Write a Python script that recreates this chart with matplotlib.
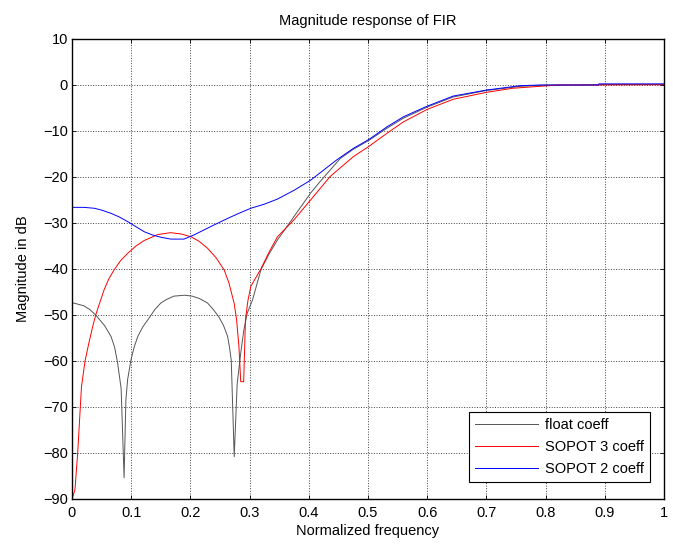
import matplotlib
matplotlib.use("Agg")
import matplotlib.pyplot as plt

plt.rcParams['font.family'] = ['Liberation Sans', 'DejaVu Sans']

# Float coefficients
freq_float = [0, 0.02, 0.03, 0.04, 0.055, 0.066, 0.072, 0.077, 0.083, 0.088, 0.091, 0.094,
              0.0995, 0.105, 0.111, 0.12, 0.13, 0.14, 0.15, 0.16, 0.172, 0.19, 0.203, 0.215,
              0.229, 0.238, 0.248, 0.256, 0.263, 0.266, 0.269, 0.274, 0.279, 0.285, 0.29,
              0.296, 0.305, 0.319, 0.333, 0.347, 0.375, 0.403, 0.419, 0.453, 0.475, 0.502,
              0.532, 0.56, 0.6, 0.644, 0.7, 0.757, 0.8, 0.85, 0.9, 1.0]
mag_float = [-47.3, -48.0, -48.8, -50, -52.3, -54.7, -57, -60.4, -66, -85.4, -68.5, -64,
             -59.8, -57, -54.7, -52.5, -50.7, -48.8, -47.4, -46.6, -45.9, -45.7, -45.9, -46.4,
             -47.4, -48.7, -50.4, -52.3, -54.7, -57, -59.8, -80.8, -65, -58.3, -53.5,
             -49.6, -46.7, -40.2, -36.7, -33.7, -28.6, -23.5, -21, -16, -14, -12,
             -9.4, -7.2, -4.8, -2.6, -1.2, -0.3, 0, 0, 0.1, 0.1]

# SOPOT 3 coefficients
freq_sopot3 = [0, 0.005, 0.0096, 0.016, 0.022, 0.029, 0.035, 0.04, 0.054, 0.062, 0.071, 0.082,
               0.094, 0.108, 0.122, 0.145, 0.167, 0.185, 0.201, 0.215, 0.229, 0.243, 0.257,
               0.265, 0.274, 0.278, 0.282, 0.285, 0.290, 0.293, 0.297, 0.302, 0.31, 0.319,
               0.333, 0.347, 0.375, 0.403, 0.436, 0.475, 0.502, 0.532, 0.56, 0.6, 0.644, 0.7,
               0.745, 0.8, 0.824, 0.889, 0.95, 1.0]
mag_sopot3 = [-90, -88, -80, -65.6, -60, -55.8, -52.5, -50, -44.6, -42.2, -40.2, -38.2,
              -36.6, -35, -33.8, -32.5, -32.1, -32.4, -33.0, -34, -35.5, -37.5, -40.2,
              -43, -47.5, -51, -56.9, -64.5, -64.5, -51, -47, -43.8, -42, -40,
              -36.3, -33, -29.3, -25, -19.9, -15.6, -13.3, -10.5, -8.0, -5.3, -3.1, -1.6,
              -0.7, -0.2, 0, 0, 0.05, 0.05]

# SOPOT 2 coefficients
freq_sopot2 = [0, 0.02, 0.038, 0.05, 0.066, 0.08, 0.094, 0.108, 0.122, 0.136, 0.15, 0.167,
               0.189, 0.206, 0.22, 0.234, 0.25, 0.263, 0.28, 0.302, 0.325, 0.347, 0.375,
               0.403, 0.419, 0.447, 0.475, 0.502, 0.532, 0.56, 0.6, 0.644, 0.7, 0.757,
               0.79, 0.889, 0.89, 1.0]
mag_sopot2 = [-26.6, -26.6, -26.8, -27.2, -27.9, -28.7, -29.7, -30.8, -31.9, -32.6, -33.1, -33.5,
              -33.5, -32.6, -31.7, -30.8, -29.8, -29.0, -28.0, -26.8, -25.9, -24.8, -22.9,
              -20.7, -19.1, -16.3, -13.8, -11.8, -9.1, -6.9, -4.6, -2.4, -1.1, -0.15,
              0, 0, 0.25, 0.25]

x_ticks = [0, 0.1, 0.2, 0.3, 0.4, 0.5, 0.6, 0.7, 0.8, 0.9, 1]
x_ticklabels = ['0', '0.1', '0.2', '0.3', '0.4', '0.5', '0.6', '0.7', '0.8', '0.9', '1']
y_ticks = [-90, -80, -70, -60, -50, -40, -30, -20, -10, 0, 10]
labels = ['float coeff', 'SOPOT 3 coeff', 'SOPOT 2 coeff']

fig = plt.figure(figsize=(6.73, 5.47), dpi=100)
ax = fig.add_axes([72 / 673, 48 / 547, 592 / 673, 460 / 547])

ax.plot(freq_float, mag_float, color='#555555', lw=0.7, label=labels[0])
ax.plot(freq_sopot3, mag_sopot3, color='#ff0000', lw=0.7, label=labels[1])
ax.plot(freq_sopot2, mag_sopot2, color='#0000ff', lw=0.7, label=labels[2])

ax.set_xlim(0, 1)
ax.set_ylim(-90, 10)
ax.set_xticks(x_ticks)
ax.set_xticklabels(x_ticklabels)
ax.set_yticks(y_ticks)

ax.grid(True, linestyle=':', color='0.25', lw=0.7)
ax.tick_params(direction='in', top=True, right=True, length=3, width=0.6,
               labelsize=10.5, colors='black')
ax.tick_params(axis='x', pad=5)
ax.tick_params(axis='y', pad=3)
for s in ax.spines.values():
    s.set_linewidth(1.0)
    s.set_color('black')

ax.set_title('Magnitude response of FIR', fontsize=10.5, pad=10)
ax.set_xlabel('Normalized frequency', fontsize=10.5, labelpad=3)
ax.set_ylabel('Magnitude in dB', fontsize=10.5, labelpad=9)

leg = ax.legend(loc='lower right', bbox_to_anchor=(0.976, 0.037), borderaxespad=0,
                fancybox=False, edgecolor='black', framealpha=1, fontsize=10.5,
                handlelength=4.3, handletextpad=0.5, labelspacing=0.55,
                borderpad=0.4)
leg.get_frame().set_linewidth(0.8)

fig.savefig('out.png', dpi=100)
